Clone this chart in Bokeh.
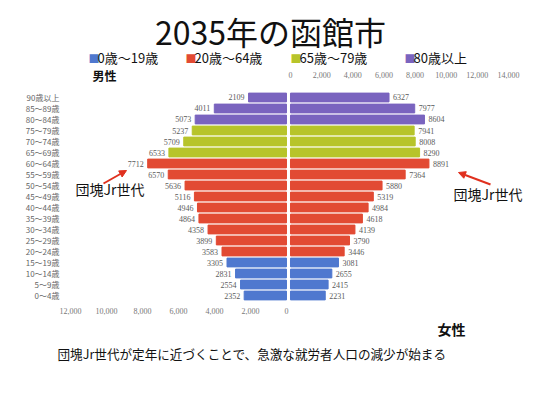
from bokeh.plotting import figure
from bokeh.models import (Range1d, LinearAxis, FixedTicker, NumeralTickFormatter,
                          ColumnDataSource, Label, Arrow, NormalHead)
from bokeh.core.properties import value
from bokeh.embed import file_html
from bokeh.resources import INLINE

ages = ["0～4歳", "5～9歳", "10～14歳", "15～19歳", "20～24歳", "25～29歳", "30～34歳",
        "35～39歳", "40～44歳", "45～49歳", "50～54歳", "55～59歳", "60～64歳", "65～69歳",
        "70～74歳", "75～79歳", "80～84歳", "85～89歳", "90歳以上"]
male = [2352, 2554, 2831, 3305, 3583, 3899, 4358, 4864, 4946, 5116, 5636, 6570, 7712, 6533,
        5709, 5237, 5073, 4011, 2109]
female = [2231, 2415, 2655, 3081, 3446, 3790, 4139, 4618, 4984, 5319, 5880, 7364, 8891, 8290,
          8008, 7941, 8604, 7977, 6327]
groups = ["0歳～19歳"] * 4 + ["20歳～64歳"] * 9 + ["65歳～79歳"] * 3 + ["80歳以上"] * 3
group_names = ["0歳～19歳", "20歳～64歳", "65歳～79歳", "80歳以上"]
group_colors = ["#4f78cf", "#e24a33", "#b7c42a", "#7a64bf"]
left_ticks = [0, 2000, 4000, 6000, 8000, 10000, 12000]
right_ticks = [0, 2000, 4000, 6000, 8000, 10000, 12000, 14000]

cmap = dict(zip(group_names, group_colors))
ypos = list(range(len(ages)))
src = ColumnDataSource(dict(
    y=ypos, male=male, female=female,
    mtxt=[str(v) for v in male], ftxt=[str(v) for v in female],
    color=[cmap[g] for g in groups],
))

JP = "Noto Sans CJK JP"
SERIF = "Liberation Serif"

W, H = 525, 390
p = figure(width=W, height=H, output_backend="svg", toolbar_location=None,
           x_range=Range1d(15888.9, -13277.8), y_range=Range1d(-8.636, 26.818),
           x_axis_location=None, y_axis_location=None,
           min_border_left=0, min_border_right=0, min_border_top=0, min_border_bottom=0)
p.extra_x_ranges = {"r": Range1d(-18624, 15092)}
p.grid.visible = False
p.outline_line_color = None
p.background_fill_color = "white"
p.border_fill_color = "white"

# bars
p.hbar(y="y", left=0, right="male", height=0.8, color="color", source=src)
p.hbar(y="y", left=0, right="female", height=0.8, color="color", source=src, x_range_name="r")

# value labels
p.text(x="male", y="y", text="mtxt", source=src, x_offset=-4, text_align="right",
       text_baseline="middle", text_font_size="8px", text_color="#5a5a5a",
       text_font=value(SERIF))
p.text(x="female", y="y", text="ftxt", source=src, x_offset=4, text_align="left",
       text_baseline="middle", text_font_size="8px", text_color="#5a5a5a",
       text_font=value(SERIF), x_range_name="r")

# axes (drawn at fixed locations inside the plot area)
bottom = LinearAxis(ticker=FixedTicker(ticks=left_ticks),
                    formatter=NumeralTickFormatter(format="0,0"), fixed_location=-0.27)
top = LinearAxis(x_range_name="r", ticker=FixedTicker(ticks=right_ticks),
                 formatter=NumeralTickFormatter(format="0,0"), fixed_location=18.82)
left = LinearAxis(ticker=FixedTicker(ticks=ypos),
                  major_label_overrides={i: a for i, a in zip(ypos, ages)},
                  fixed_location=12000)
p.add_layout(bottom, "below")
p.add_layout(top, "above")
p.add_layout(left, "left")
for ax in [bottom, top, left]:
    ax.axis_line_color = None
    ax.major_tick_line_color = None
    ax.minor_tick_line_color = None
    ax.major_label_text_font_size = "8px"
for ax in [bottom, top]:
    ax.major_label_text_color = "#777777"
    ax.major_label_text_font = SERIF
    ax.major_label_standoff = 4
left.major_label_text_color = "#666666"
left.major_label_text_font = JP
left.major_label_standoff = 5

def lab(text, x, y, size, align="left", color="#111111", style="normal", font=JP):
    p.add_layout(Label(x=x, y=y, x_units="screen", y_units="screen", text=text,
                       text_font_size=size, text_align=align, text_baseline="middle",
                       text_color=color, text_font_style=style, text_font=font))

# title
lab("2035年の函館市", 270, 360, "32px", align="center")
# legend
leg_x = [88, 185, 290, 404]
for gx, name, col in zip(leg_x, group_names, group_colors):
    lab("■", gx, 333, "11px", color=col)
    lab(name, gx + 9, 333, "13px")
lab("男性", 92, 315, "12px", style="bold")
lab("女性", 437, 62, "14px", style="bold")
lab("団塊Jr世代が定年に近づくことで、急激な就労者人口の減少が始まる", 57, 37, "12.6px")
lab("団塊Jr世代", 75, 202, "14px")
lab("団塊Jr世代", 453, 197, "14px")

red = "#e0301e"
p.add_layout(Arrow(x_start=103, y_start=207, x_end=126, y_end=220,
                   start_units="screen", end_units="screen",
                   line_color=red, line_width=2,
                   end=NormalHead(size=7, fill_color=red, line_color=red)))
p.add_layout(Arrow(x_start=490, y_start=206, x_end=458, y_end=218,
                   start_units="screen", end_units="screen",
                   line_color=red, line_width=2,
                   end=NormalHead(size=7, fill_color=red, line_color=red)))

open("out.html", "w").write(file_html(p, INLINE))
